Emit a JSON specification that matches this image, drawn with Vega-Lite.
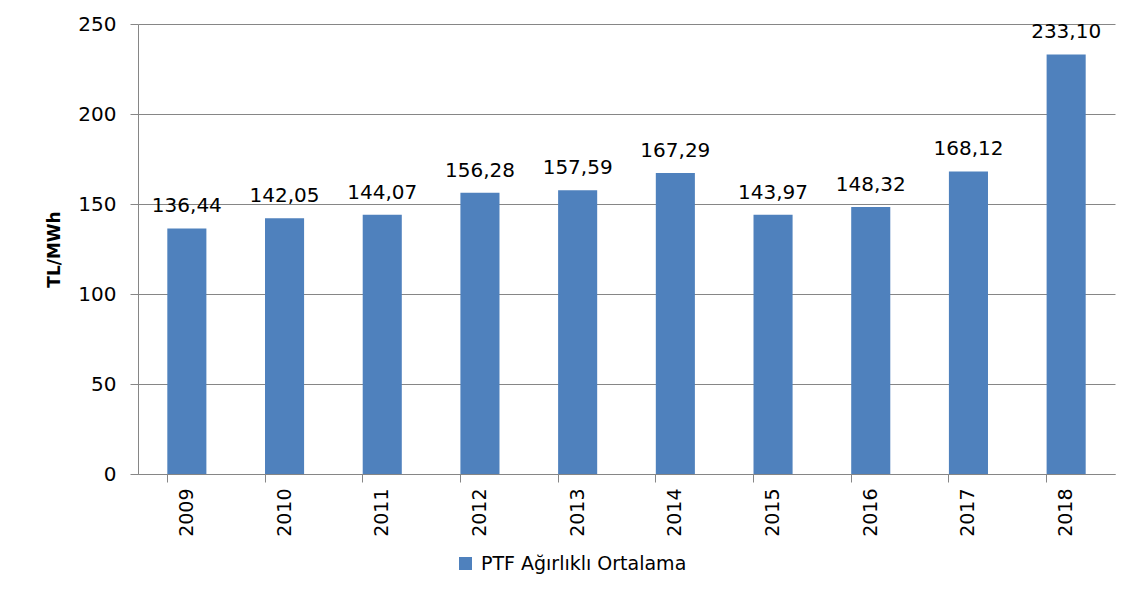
{
  "$schema": "https://vega.github.io/schema/vega-lite/v6.json",
  "autosize": "none",
  "width": 977,
  "height": 450,
  "padding": {"left": 138, "top": 24, "right": 23, "bottom": 127},
  "background": "white",
  "config": {
    "font": "DejaVu Sans",
    "view": {"stroke": null},
    "locale": {"number": {"decimal": ",", "thousands": ".", "grouping": [3], "currency": ["", " TL"]}}
  },
  "data": {
    "values": [
      {"year": "2009", "value": 136.44, "series": "PTF Ağırlıklı Ortalama"},
      {"year": "2010", "value": 142.05, "series": "PTF Ağırlıklı Ortalama"},
      {"year": "2011", "value": 144.07, "series": "PTF Ağırlıklı Ortalama"},
      {"year": "2012", "value": 156.28, "series": "PTF Ağırlıklı Ortalama"},
      {"year": "2013", "value": 157.59, "series": "PTF Ağırlıklı Ortalama"},
      {"year": "2014", "value": 167.29, "series": "PTF Ağırlıklı Ortalama"},
      {"year": "2015", "value": 143.97, "series": "PTF Ağırlıklı Ortalama"},
      {"year": "2016", "value": 148.32, "series": "PTF Ağırlıklı Ortalama"},
      {"year": "2017", "value": 168.12, "series": "PTF Ağırlıklı Ortalama"},
      {"year": "2018", "value": 233.10, "series": "PTF Ağırlıklı Ortalama"}
    ]
  },
  "encoding": {
    "x": {
      "field": "year", "type": "nominal",
      "scale": {"paddingInner": 0.6, "paddingOuter": 0.3},
      "axis": {
        "title": null, "labelAngle": -90, "labelFontSize": 19, "labelColor": "#000000",
        "labelPadding": 6, "labelBaseline": "middle", "labelAlign": "right",
        "bandPosition": 0, "ticks": true, "tickSize": 8, "tickColor": "#868686",
        "domainColor": "#868686", "grid": false
      }
    },
    "y": {
      "field": "value", "type": "quantitative",
      "scale": {"domain": [0, 250]},
      "axis": {
        "title": "TL/MWh", "titleFontSize": 17, "titleFontWeight": "bold", "titleColor": "#000000",
        "titlePadding": 14,
        "values": [0, 50, 100, 150, 200, 250],
        "labelFontSize": 20, "labelColor": "#000000", "labelPadding": 14,
        "tickSize": 8, "tickColor": "#868686", "domainColor": "#868686",
        "gridColor": "#868686", "gridWidth": 1
      }
    }
  },
  "layer": [
    {
      "mark": {"type": "bar", "color": "#4F81BD"},
      "encoding": {
        "color": {
          "field": "series", "type": "nominal",
          "scale": {"range": ["#4F81BD"]},
          "legend": {
            "title": null, "orient": "none", "legendX": 318, "legendY": 530,
            "symbolType": "square", "symbolSize": 170, "symbolStrokeWidth": 0,
            "labelFontSize": 19, "labelLimit": 0, "labelColor": "#000000", "labelOffset": 6
          }
        }
      }
    },
    {
      "mark": {"type": "text", "baseline": "alphabetic", "dy": -16, "fontSize": 20, "color": "#000000"},
      "encoding": {
        "text": {"field": "value", "type": "quantitative", "format": ".2f"}
      }
    }
  ]
}
